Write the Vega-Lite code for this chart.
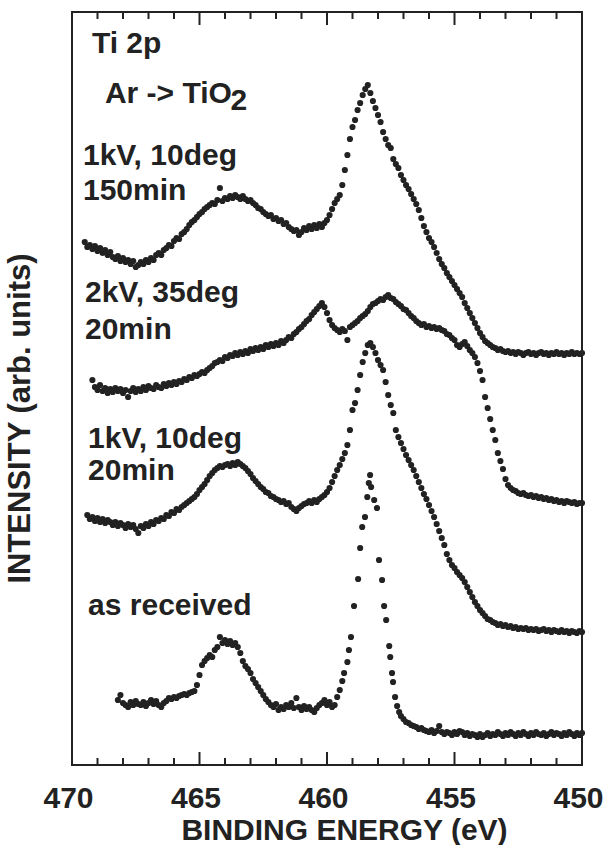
{
"$schema":"https://vega.github.io/schema/vega-lite/v6.json",
"width":510,"height":753,
"autosize":{"type":"none"},
"padding":{"left":72,"top":12,"right":21,"bottom":80},
"background":"white",
"config":{"view":{"stroke":"#222","strokeWidth":2},"axis":{"grid":false,"domain":false}},
"datasets":{
"ticks":[
{"e":470,"k":"major"},{"e":469,"k":"minor"},{"e":468,"k":"minor"},{"e":467,"k":"minor"},{"e":466,"k":"minor"},{"e":465,"k":"major"},{"e":464,"k":"minor"},{"e":463,"k":"minor"},{"e":462,"k":"minor"},{"e":461,"k":"minor"},{"e":460,"k":"major"},{"e":459,"k":"minor"},{"e":458,"k":"minor"},{"e":457,"k":"minor"},{"e":456,"k":"minor"},{"e":455,"k":"major"},{"e":454,"k":"minor"},{"e":453,"k":"minor"},{"e":452,"k":"minor"},{"e":451,"k":"minor"},{"e":450,"k":"major"}
],
"spectra":[
{"s":"A","e":469.5,"i":523},{"s":"A","e":469.4,"i":518},{"s":"A","e":469.3,"i":520},{"s":"A","e":469.2,"i":516},{"s":"A","e":469.1,"i":519},{"s":"A","e":469.0,"i":514},{"s":"A","e":468.9,"i":517},{"s":"A","e":468.8,"i":512},{"s":"A","e":468.7,"i":515},{"s":"A","e":468.6,"i":510},{"s":"A","e":468.5,"i":513},{"s":"A","e":468.4,"i":508},{"s":"A","e":468.3,"i":506},{"s":"A","e":468.2,"i":509},{"s":"A","e":468.1,"i":504},{"s":"A","e":468.0,"i":507},{"s":"A","e":467.9,"i":503},{"s":"A","e":467.8,"i":505},{"s":"A","e":467.7,"i":501},{"s":"A","e":467.6,"i":504},{"s":"A","e":467.5,"i":498},{"s":"A","e":467.4,"i":500},{"s":"A","e":467.3,"i":503},{"s":"A","e":467.2,"i":501},{"s":"A","e":467.1,"i":505},{"s":"A","e":467.0,"i":503},
{"s":"A","e":466.9,"i":507},{"s":"A","e":466.8,"i":505},{"s":"A","e":466.7,"i":510},{"s":"A","e":466.6,"i":512},{"s":"A","e":466.5,"i":510},{"s":"A","e":466.4,"i":515},{"s":"A","e":466.3,"i":517},{"s":"A","e":466.2,"i":520},{"s":"A","e":466.1,"i":519},{"s":"A","e":466.0,"i":524},{"s":"A","e":465.9,"i":527},{"s":"A","e":465.8,"i":526},{"s":"A","e":465.7,"i":531},{"s":"A","e":465.6,"i":533},{"s":"A","e":465.5,"i":536},{"s":"A","e":465.4,"i":540},{"s":"A","e":465.3,"i":543},{"s":"A","e":465.2,"i":545},{"s":"A","e":465.1,"i":548},{"s":"A","e":465.0,"i":551},{"s":"A","e":464.9,"i":553},{"s":"A","e":464.8,"i":556},{"s":"A","e":464.7,"i":558},{"s":"A","e":464.6,"i":560},{"s":"A","e":464.5,"i":562},{"s":"A","e":464.4,"i":561},{"s":"A","e":464.3,"i":565},{"s":"A","e":464.2,"i":577},{"s":"A","e":464.1,"i":564},{"s":"A","e":464.0,"i":567},{"s":"A","e":463.9,"i":566},{"s":"A","e":463.8,"i":569},{"s":"A","e":463.7,"i":567},{"s":"A","e":463.6,"i":570},{"s":"A","e":463.5,"i":568},{"s":"A","e":463.4,"i":566},{"s":"A","e":463.3,"i":569},{"s":"A","e":463.2,"i":566},{"s":"A","e":463.1,"i":564},{"s":"A","e":463.0,"i":565},{"s":"A","e":462.9,"i":562},{"s":"A","e":462.8,"i":560},{"s":"A","e":462.7,"i":557},{"s":"A","e":462.6,"i":556},{"s":"A","e":462.5,"i":553},{"s":"A","e":462.4,"i":551},{"s":"A","e":462.3,"i":549},{"s":"A","e":462.2,"i":550},{"s":"A","e":462.1,"i":546},{"s":"A","e":462.0,"i":547},{"s":"A","e":461.9,"i":544},{"s":"A","e":461.8,"i":545},{"s":"A","e":461.7,"i":541},{"s":"A","e":461.6,"i":542},{"s":"A","e":461.5,"i":538},{"s":"A","e":461.4,"i":536},{"s":"A","e":461.3,"i":534},{"s":"A","e":461.2,"i":535},{"s":"A","e":461.1,"i":530},{"s":"A","e":461.0,"i":533},{"s":"A","e":460.9,"i":537},{"s":"A","e":460.8,"i":535},{"s":"A","e":460.7,"i":539},{"s":"A","e":460.6,"i":536},{"s":"A","e":460.5,"i":540},{"s":"A","e":460.4,"i":537},{"s":"A","e":460.3,"i":541},{"s":"A","e":460.2,"i":538},{"s":"A","e":460.1,"i":542},{"s":"A","e":460.0,"i":545},
{"s":"A","e":459.9,"i":550},{"s":"A","e":459.8,"i":556},{"s":"A","e":459.7,"i":562},{"s":"A","e":459.6,"i":566},{"s":"A","e":459.5,"i":570},{"s":"A","e":459.4,"i":580},{"s":"A","e":459.3,"i":595},{"s":"A","e":459.2,"i":610},{"s":"A","e":459.1,"i":626},{"s":"A","e":459.0,"i":638},{"s":"A","e":458.9,"i":645},{"s":"A","e":458.8,"i":655},{"s":"A","e":458.7,"i":662},{"s":"A","e":458.6,"i":670},{"s":"A","e":458.5,"i":676},{"s":"A","e":458.4,"i":680},{"s":"A","e":458.3,"i":672},{"s":"A","e":458.2,"i":664},{"s":"A","e":458.1,"i":657},{"s":"A","e":458.0,"i":650},{"s":"A","e":457.9,"i":643},{"s":"A","e":457.8,"i":633},{"s":"A","e":457.7,"i":626},{"s":"A","e":457.6,"i":620},{"s":"A","e":457.5,"i":617},{"s":"A","e":457.4,"i":606},{"s":"A","e":457.3,"i":601},{"s":"A","e":457.2,"i":597},{"s":"A","e":457.1,"i":590},{"s":"A","e":457.0,"i":585},{"s":"A","e":456.9,"i":580},{"s":"A","e":456.8,"i":576},{"s":"A","e":456.7,"i":571},{"s":"A","e":456.6,"i":566},{"s":"A","e":456.5,"i":561},{"s":"A","e":456.4,"i":555},{"s":"A","e":456.3,"i":547},{"s":"A","e":456.2,"i":539},{"s":"A","e":456.1,"i":533},{"s":"A","e":456.0,"i":527},{"s":"A","e":455.9,"i":523},{"s":"A","e":455.8,"i":518},{"s":"A","e":455.7,"i":512},{"s":"A","e":455.6,"i":506},{"s":"A","e":455.5,"i":501},{"s":"A","e":455.4,"i":497},{"s":"A","e":455.3,"i":492},{"s":"A","e":455.2,"i":488},{"s":"A","e":455.1,"i":484},{"s":"A","e":455.0,"i":480},{"s":"A","e":454.9,"i":476},{"s":"A","e":454.8,"i":472},{"s":"A","e":454.7,"i":468},{"s":"A","e":454.6,"i":462},{"s":"A","e":454.5,"i":457},{"s":"A","e":454.4,"i":452},{"s":"A","e":454.3,"i":447},{"s":"A","e":454.2,"i":442},{"s":"A","e":454.1,"i":437},{"s":"A","e":454.0,"i":432},{"s":"A","e":453.9,"i":428},{"s":"A","e":453.8,"i":424},{"s":"A","e":453.7,"i":422},{"s":"A","e":453.6,"i":420},{"s":"A","e":453.5,"i":418},{"s":"A","e":453.4,"i":417},{"s":"A","e":453.3,"i":415},{"s":"A","e":453.2,"i":416},{"s":"A","e":453.1,"i":414},{"s":"A","e":453.0,"i":413},{"s":"A","e":452.9,"i":414},{"s":"A","e":452.8,"i":412},{"s":"A","e":452.7,"i":413},{"s":"A","e":452.6,"i":411},{"s":"A","e":452.5,"i":413},{"s":"A","e":452.4,"i":412},{"s":"A","e":452.3,"i":410},{"s":"A","e":452.2,"i":412},{"s":"A","e":452.1,"i":413},{"s":"A","e":452.0,"i":411},{"s":"A","e":451.9,"i":412},{"s":"A","e":451.8,"i":410},{"s":"A","e":451.7,"i":412},{"s":"A","e":451.6,"i":413},{"s":"A","e":451.5,"i":411},{"s":"A","e":451.4,"i":412},{"s":"A","e":451.3,"i":410},{"s":"A","e":451.2,"i":412},{"s":"A","e":451.1,"i":411},{"s":"A","e":451.0,"i":413},{"s":"A","e":450.9,"i":411},{"s":"A","e":450.8,"i":412},{"s":"A","e":450.7,"i":410},{"s":"A","e":450.6,"i":412},{"s":"A","e":450.5,"i":411},{"s":"A","e":450.4,"i":413},{"s":"A","e":450.3,"i":411},{"s":"A","e":450.2,"i":412},{"s":"A","e":450.1,"i":411},{"s":"A","e":450.0,"i":412},
{"s":"B","e":469.2,"i":385},{"s":"B","e":469.1,"i":378},{"s":"B","e":469.0,"i":375},{"s":"B","e":468.9,"i":380},{"s":"B","e":468.8,"i":374},{"s":"B","e":468.7,"i":377},{"s":"B","e":468.6,"i":372},{"s":"B","e":468.5,"i":376},{"s":"B","e":468.4,"i":373},{"s":"B","e":468.3,"i":377},{"s":"B","e":468.2,"i":374},{"s":"B","e":468.1,"i":376},{"s":"B","e":468.0,"i":372},{"s":"B","e":467.9,"i":375},{"s":"B","e":467.8,"i":368},{"s":"B","e":467.7,"i":374},{"s":"B","e":467.6,"i":377},{"s":"B","e":467.5,"i":373},{"s":"B","e":467.4,"i":376},{"s":"B","e":467.3,"i":374},{"s":"B","e":467.2,"i":378},{"s":"B","e":467.1,"i":375},{"s":"B","e":467.0,"i":379},{"s":"B","e":466.9,"i":377},{"s":"B","e":466.8,"i":376},{"s":"B","e":466.7,"i":380},{"s":"B","e":466.6,"i":378},{"s":"B","e":466.5,"i":377},{"s":"B","e":466.4,"i":381},{"s":"B","e":466.3,"i":379},{"s":"B","e":466.2,"i":382},{"s":"B","e":466.1,"i":380},{"s":"B","e":466.0,"i":383},{"s":"B","e":465.9,"i":381},{"s":"B","e":465.8,"i":384},{"s":"B","e":465.7,"i":383},{"s":"B","e":465.6,"i":386},{"s":"B","e":465.5,"i":385},{"s":"B","e":465.4,"i":388},{"s":"B","e":465.3,"i":387},{"s":"B","e":465.2,"i":390},{"s":"B","e":465.1,"i":389},{"s":"B","e":465.0,"i":391},{"s":"B","e":464.9,"i":393},{"s":"B","e":464.8,"i":392},{"s":"B","e":464.7,"i":395},{"s":"B","e":464.6,"i":397},{"s":"B","e":464.5,"i":399},{"s":"B","e":464.4,"i":402},{"s":"B","e":464.3,"i":403},{"s":"B","e":464.2,"i":405},{"s":"B","e":464.1,"i":404},{"s":"B","e":464.0,"i":408},{"s":"B","e":463.9,"i":407},{"s":"B","e":463.8,"i":410},{"s":"B","e":463.7,"i":409},{"s":"B","e":463.6,"i":412},{"s":"B","e":463.5,"i":410},{"s":"B","e":463.4,"i":413},{"s":"B","e":463.3,"i":411},{"s":"B","e":463.2,"i":414},{"s":"B","e":463.1,"i":412},{"s":"B","e":463.0,"i":416},{"s":"B","e":462.9,"i":414},{"s":"B","e":462.8,"i":417},{"s":"B","e":462.7,"i":415},{"s":"B","e":462.6,"i":418},{"s":"B","e":462.5,"i":416},{"s":"B","e":462.4,"i":420},{"s":"B","e":462.3,"i":418},{"s":"B","e":462.2,"i":421},{"s":"B","e":462.1,"i":419},{"s":"B","e":462.0,"i":422},{"s":"B","e":461.9,"i":420},{"s":"B","e":461.8,"i":424},{"s":"B","e":461.7,"i":422},{"s":"B","e":461.6,"i":425},{"s":"B","e":461.5,"i":428},{"s":"B","e":461.4,"i":427},{"s":"B","e":461.3,"i":431},{"s":"B","e":461.2,"i":433},{"s":"B","e":461.1,"i":436},{"s":"B","e":461.0,"i":438},{"s":"B","e":460.9,"i":441},{"s":"B","e":460.8,"i":444},{"s":"B","e":460.7,"i":446},{"s":"B","e":460.6,"i":450},{"s":"B","e":460.5,"i":453},{"s":"B","e":460.4,"i":456},{"s":"B","e":460.3,"i":459},{"s":"B","e":460.2,"i":462},{"s":"B","e":460.1,"i":458},{"s":"B","e":460.0,"i":452},{"s":"B","e":459.9,"i":445},{"s":"B","e":459.8,"i":440},{"s":"B","e":459.7,"i":437},{"s":"B","e":459.6,"i":435},{"s":"B","e":459.5,"i":433},{"s":"B","e":459.4,"i":436},{"s":"B","e":459.3,"i":434},{"s":"B","e":459.2,"i":425},{"s":"B","e":459.1,"i":438},{"s":"B","e":459.0,"i":440},{"s":"B","e":458.9,"i":442},{"s":"B","e":458.8,"i":444},{"s":"B","e":458.7,"i":447},{"s":"B","e":458.6,"i":449},{"s":"B","e":458.5,"i":451},{"s":"B","e":458.4,"i":454},{"s":"B","e":458.3,"i":458},{"s":"B","e":458.2,"i":461},{"s":"B","e":458.1,"i":462},{"s":"B","e":458.0,"i":464},{"s":"B","e":457.9,"i":466},{"s":"B","e":457.8,"i":465},{"s":"B","e":457.7,"i":468},{"s":"B","e":457.6,"i":470},{"s":"B","e":457.5,"i":467},{"s":"B","e":457.4,"i":466},{"s":"B","e":457.3,"i":463},{"s":"B","e":457.2,"i":461},{"s":"B","e":457.1,"i":459},{"s":"B","e":457.0,"i":456},{"s":"B","e":456.9,"i":455},{"s":"B","e":456.8,"i":452},{"s":"B","e":456.7,"i":449},{"s":"B","e":456.6,"i":447},{"s":"B","e":456.5,"i":444},{"s":"B","e":456.4,"i":442},{"s":"B","e":456.3,"i":440},{"s":"B","e":456.2,"i":441},{"s":"B","e":456.1,"i":438},{"s":"B","e":456.0,"i":439},{"s":"B","e":455.9,"i":437},{"s":"B","e":455.8,"i":438},{"s":"B","e":455.7,"i":436},{"s":"B","e":455.6,"i":437},{"s":"B","e":455.5,"i":435},{"s":"B","e":455.4,"i":434},{"s":"B","e":455.3,"i":431},{"s":"B","e":455.2,"i":430},{"s":"B","e":455.1,"i":427},{"s":"B","e":455.0,"i":425},{"s":"B","e":454.9,"i":420},{"s":"B","e":454.8,"i":418},{"s":"B","e":454.7,"i":421},{"s":"B","e":454.6,"i":423},{"s":"B","e":454.5,"i":419},{"s":"B","e":454.4,"i":415},{"s":"B","e":454.3,"i":412},{"s":"B","e":454.2,"i":408},{"s":"B","e":454.1,"i":402},{"s":"B","e":454.0,"i":394},{"s":"B","e":453.9,"i":385},{"s":"B","e":453.8,"i":368},{"s":"B","e":453.7,"i":357},{"s":"B","e":453.6,"i":346},{"s":"B","e":453.5,"i":335},{"s":"B","e":453.4,"i":325},{"s":"B","e":453.3,"i":312},{"s":"B","e":453.2,"i":304},{"s":"B","e":453.1,"i":296},{"s":"B","e":453.0,"i":286},{"s":"B","e":452.9,"i":280},{"s":"B","e":452.8,"i":277},{"s":"B","e":452.7,"i":275},{"s":"B","e":452.6,"i":274},{"s":"B","e":452.5,"i":272},{"s":"B","e":452.4,"i":271},{"s":"B","e":452.3,"i":272},{"s":"B","e":452.2,"i":270},{"s":"B","e":452.1,"i":269},{"s":"B","e":452.0,"i":270},{"s":"B","e":451.9,"i":268},{"s":"B","e":451.8,"i":269},{"s":"B","e":451.7,"i":267},{"s":"B","e":451.6,"i":268},{"s":"B","e":451.5,"i":266},{"s":"B","e":451.4,"i":267},{"s":"B","e":451.3,"i":265},{"s":"B","e":451.2,"i":266},{"s":"B","e":451.1,"i":264},{"s":"B","e":451.0,"i":265},{"s":"B","e":450.9,"i":263},{"s":"B","e":450.8,"i":264},{"s":"B","e":450.7,"i":262},{"s":"B","e":450.6,"i":264},{"s":"B","e":450.5,"i":263},{"s":"B","e":450.4,"i":262},{"s":"B","e":450.3,"i":263},{"s":"B","e":450.2,"i":261},{"s":"B","e":450.1,"i":262},{"s":"B","e":450.0,"i":262},
{"s":"C","e":469.4,"i":250},{"s":"C","e":469.3,"i":246},{"s":"C","e":469.2,"i":248},{"s":"C","e":469.1,"i":244},{"s":"C","e":469.0,"i":247},{"s":"C","e":468.9,"i":243},{"s":"C","e":468.8,"i":246},{"s":"C","e":468.7,"i":242},{"s":"C","e":468.6,"i":245},{"s":"C","e":468.5,"i":243},{"s":"C","e":468.4,"i":240},{"s":"C","e":468.3,"i":243},{"s":"C","e":468.2,"i":239},{"s":"C","e":468.1,"i":242},{"s":"C","e":468.0,"i":240},{"s":"C","e":467.9,"i":237},{"s":"C","e":467.8,"i":241},{"s":"C","e":467.7,"i":238},{"s":"C","e":467.6,"i":240},{"s":"C","e":467.5,"i":236},{"s":"C","e":467.4,"i":232},{"s":"C","e":467.3,"i":239},{"s":"C","e":467.2,"i":237},{"s":"C","e":467.1,"i":241},{"s":"C","e":467.0,"i":239},{"s":"C","e":466.9,"i":243},{"s":"C","e":466.8,"i":241},{"s":"C","e":466.7,"i":245},{"s":"C","e":466.6,"i":244},{"s":"C","e":466.5,"i":247},{"s":"C","e":466.4,"i":246},{"s":"C","e":466.3,"i":250},{"s":"C","e":466.2,"i":249},{"s":"C","e":466.1,"i":253},{"s":"C","e":466.0,"i":252},{"s":"C","e":465.9,"i":256},{"s":"C","e":465.8,"i":255},{"s":"C","e":465.7,"i":258},{"s":"C","e":465.6,"i":260},{"s":"C","e":465.5,"i":262},{"s":"C","e":465.4,"i":264},{"s":"C","e":465.3,"i":266},{"s":"C","e":465.2,"i":268},{"s":"C","e":465.1,"i":271},{"s":"C","e":465.0,"i":275},{"s":"C","e":464.9,"i":278},{"s":"C","e":464.8,"i":281},{"s":"C","e":464.7,"i":285},{"s":"C","e":464.6,"i":289},{"s":"C","e":464.5,"i":292},{"s":"C","e":464.4,"i":295},{"s":"C","e":464.3,"i":297},{"s":"C","e":464.2,"i":299},{"s":"C","e":464.1,"i":298},{"s":"C","e":464.0,"i":300},{"s":"C","e":463.9,"i":301},{"s":"C","e":463.8,"i":299},{"s":"C","e":463.7,"i":302},{"s":"C","e":463.6,"i":300},{"s":"C","e":463.5,"i":303},{"s":"C","e":463.4,"i":301},{"s":"C","e":463.3,"i":299},{"s":"C","e":463.2,"i":297},{"s":"C","e":463.1,"i":294},{"s":"C","e":463.0,"i":291},{"s":"C","e":462.9,"i":287},{"s":"C","e":462.8,"i":284},{"s":"C","e":462.7,"i":281},{"s":"C","e":462.6,"i":278},{"s":"C","e":462.5,"i":276},{"s":"C","e":462.4,"i":273},{"s":"C","e":462.3,"i":272},{"s":"C","e":462.2,"i":269},{"s":"C","e":462.1,"i":268},{"s":"C","e":462.0,"i":266},{"s":"C","e":461.9,"i":265},{"s":"C","e":461.8,"i":263},{"s":"C","e":461.7,"i":264},{"s":"C","e":461.6,"i":261},{"s":"C","e":461.5,"i":262},{"s":"C","e":461.4,"i":258},{"s":"C","e":461.3,"i":256},{"s":"C","e":461.2,"i":254},{"s":"C","e":461.1,"i":257},{"s":"C","e":461.0,"i":259},{"s":"C","e":460.9,"i":261},{"s":"C","e":460.8,"i":262},{"s":"C","e":460.7,"i":264},{"s":"C","e":460.6,"i":262},{"s":"C","e":460.5,"i":265},{"s":"C","e":460.4,"i":263},{"s":"C","e":460.3,"i":266},{"s":"C","e":460.2,"i":268},{"s":"C","e":460.1,"i":270},{"s":"C","e":460.0,"i":273},{"s":"C","e":459.9,"i":277},{"s":"C","e":459.8,"i":283},{"s":"C","e":459.7,"i":289},{"s":"C","e":459.6,"i":295},{"s":"C","e":459.5,"i":300},{"s":"C","e":459.4,"i":306},{"s":"C","e":459.3,"i":312},{"s":"C","e":459.2,"i":320},{"s":"C","e":459.1,"i":335},{"s":"C","e":459.0,"i":355},{"s":"C","e":458.9,"i":362},{"s":"C","e":458.8,"i":375},{"s":"C","e":458.7,"i":390},{"s":"C","e":458.6,"i":403},{"s":"C","e":458.5,"i":412},{"s":"C","e":458.4,"i":420},{"s":"C","e":458.3,"i":422},{"s":"C","e":458.2,"i":418},{"s":"C","e":458.1,"i":412},{"s":"C","e":458.0,"i":405},{"s":"C","e":457.9,"i":400},{"s":"C","e":457.8,"i":395},{"s":"C","e":457.7,"i":383},{"s":"C","e":457.6,"i":370},{"s":"C","e":457.5,"i":360},{"s":"C","e":457.4,"i":352},{"s":"C","e":457.3,"i":335},{"s":"C","e":457.2,"i":328},{"s":"C","e":457.1,"i":322},{"s":"C","e":457.0,"i":316},{"s":"C","e":456.9,"i":310},{"s":"C","e":456.8,"i":305},{"s":"C","e":456.7,"i":300},{"s":"C","e":456.6,"i":295},{"s":"C","e":456.5,"i":289},{"s":"C","e":456.4,"i":283},{"s":"C","e":456.3,"i":277},{"s":"C","e":456.2,"i":271},{"s":"C","e":456.1,"i":266},{"s":"C","e":456.0,"i":260},{"s":"C","e":455.9,"i":254},{"s":"C","e":455.8,"i":248},{"s":"C","e":455.7,"i":241},{"s":"C","e":455.6,"i":234},{"s":"C","e":455.5,"i":227},{"s":"C","e":455.4,"i":220},{"s":"C","e":455.3,"i":211},{"s":"C","e":455.2,"i":205},{"s":"C","e":455.1,"i":200},{"s":"C","e":455.0,"i":197},{"s":"C","e":454.9,"i":193},{"s":"C","e":454.8,"i":190},{"s":"C","e":454.7,"i":187},{"s":"C","e":454.6,"i":183},{"s":"C","e":454.5,"i":178},{"s":"C","e":454.4,"i":173},{"s":"C","e":454.3,"i":168},{"s":"C","e":454.2,"i":163},{"s":"C","e":454.1,"i":159},{"s":"C","e":454.0,"i":155},{"s":"C","e":453.9,"i":152},{"s":"C","e":453.8,"i":149},{"s":"C","e":453.7,"i":146},{"s":"C","e":453.6,"i":145},{"s":"C","e":453.5,"i":143},{"s":"C","e":453.4,"i":142},{"s":"C","e":453.3,"i":140},{"s":"C","e":453.2,"i":141},{"s":"C","e":453.1,"i":139},{"s":"C","e":453.0,"i":140},{"s":"C","e":452.9,"i":138},{"s":"C","e":452.8,"i":139},{"s":"C","e":452.7,"i":137},{"s":"C","e":452.6,"i":138},{"s":"C","e":452.5,"i":136},{"s":"C","e":452.4,"i":137},{"s":"C","e":452.3,"i":136},{"s":"C","e":452.2,"i":137},{"s":"C","e":452.1,"i":135},{"s":"C","e":452.0,"i":136},{"s":"C","e":451.9,"i":135},{"s":"C","e":451.8,"i":136},{"s":"C","e":451.7,"i":134},{"s":"C","e":451.6,"i":135},{"s":"C","e":451.5,"i":136},{"s":"C","e":451.4,"i":134},{"s":"C","e":451.3,"i":135},{"s":"C","e":451.2,"i":133},{"s":"C","e":451.1,"i":135},{"s":"C","e":451.0,"i":134},{"s":"C","e":450.9,"i":133},{"s":"C","e":450.8,"i":135},{"s":"C","e":450.7,"i":133},{"s":"C","e":450.6,"i":134},{"s":"C","e":450.5,"i":132},{"s":"C","e":450.4,"i":134},{"s":"C","e":450.3,"i":133},{"s":"C","e":450.2,"i":132},{"s":"C","e":450.1,"i":134},{"s":"C","e":450.0,"i":133},
{"s":"D","e":468.2,"i":65},{"s":"D","e":468.1,"i":70},{"s":"D","e":468.0,"i":62},{"s":"D","e":467.9,"i":60},{"s":"D","e":467.8,"i":58},{"s":"D","e":467.7,"i":63},{"s":"D","e":467.6,"i":60},{"s":"D","e":467.5,"i":64},{"s":"D","e":467.4,"i":61},{"s":"D","e":467.3,"i":60},{"s":"D","e":467.2,"i":63},{"s":"D","e":467.1,"i":59},{"s":"D","e":467.0,"i":62},{"s":"D","e":466.9,"i":65},{"s":"D","e":466.8,"i":61},{"s":"D","e":466.7,"i":64},{"s":"D","e":466.6,"i":60},{"s":"D","e":466.5,"i":58},{"s":"D","e":466.4,"i":62},{"s":"D","e":466.3,"i":64},{"s":"D","e":466.2,"i":67},{"s":"D","e":466.1,"i":66},{"s":"D","e":466.0,"i":68},{"s":"D","e":465.9,"i":67},{"s":"D","e":465.8,"i":69},{"s":"D","e":465.7,"i":70},{"s":"D","e":465.6,"i":71},{"s":"D","e":465.5,"i":70},{"s":"D","e":465.4,"i":72},{"s":"D","e":465.3,"i":73},{"s":"D","e":465.2,"i":74},{"s":"D","e":465.1,"i":80},{"s":"D","e":465.0,"i":90},{"s":"D","e":464.9,"i":100},{"s":"D","e":464.8,"i":104},{"s":"D","e":464.7,"i":107},{"s":"D","e":464.6,"i":110},{"s":"D","e":464.5,"i":108},{"s":"D","e":464.4,"i":115},{"s":"D","e":464.3,"i":118},{"s":"D","e":464.2,"i":128},{"s":"D","e":464.1,"i":122},{"s":"D","e":464.0,"i":125},{"s":"D","e":463.9,"i":121},{"s":"D","e":463.8,"i":124},{"s":"D","e":463.7,"i":120},{"s":"D","e":463.6,"i":122},{"s":"D","e":463.5,"i":118},{"s":"D","e":463.4,"i":112},{"s":"D","e":463.3,"i":104},{"s":"D","e":463.2,"i":99},{"s":"D","e":463.1,"i":96},{"s":"D","e":463.0,"i":92},{"s":"D","e":462.9,"i":86},{"s":"D","e":462.8,"i":82},{"s":"D","e":462.7,"i":78},{"s":"D","e":462.6,"i":74},{"s":"D","e":462.5,"i":70},{"s":"D","e":462.4,"i":66},{"s":"D","e":462.3,"i":63},{"s":"D","e":462.2,"i":60},{"s":"D","e":462.1,"i":58},{"s":"D","e":462.0,"i":61},{"s":"D","e":461.9,"i":55},{"s":"D","e":461.8,"i":58},{"s":"D","e":461.7,"i":56},{"s":"D","e":461.6,"i":60},{"s":"D","e":461.5,"i":58},{"s":"D","e":461.4,"i":62},{"s":"D","e":461.3,"i":57},{"s":"D","e":461.2,"i":67},{"s":"D","e":461.1,"i":58},{"s":"D","e":461.0,"i":55},{"s":"D","e":460.9,"i":59},{"s":"D","e":460.8,"i":56},{"s":"D","e":460.7,"i":58},{"s":"D","e":460.6,"i":55},{"s":"D","e":460.5,"i":53},{"s":"D","e":460.4,"i":57},{"s":"D","e":460.3,"i":60},{"s":"D","e":460.2,"i":62},{"s":"D","e":460.1,"i":65},{"s":"D","e":460.0,"i":60},{"s":"D","e":459.9,"i":63},{"s":"D","e":459.8,"i":58},{"s":"D","e":459.7,"i":60},{"s":"D","e":459.6,"i":68},{"s":"D","e":459.5,"i":75},{"s":"D","e":459.4,"i":84},{"s":"D","e":459.33,"i":92},{"s":"D","e":459.2,"i":103},{"s":"D","e":459.14,"i":115},{"s":"D","e":459.06,"i":128},{"s":"D","e":458.94,"i":159},{"s":"D","e":458.78,"i":186},{"s":"D","e":458.7,"i":217},{"s":"D","e":458.62,"i":238},{"s":"D","e":458.51,"i":248},{"s":"D","e":458.42,"i":268},{"s":"D","e":458.36,"i":282},{"s":"D","e":458.31,"i":290},{"s":"D","e":458.27,"i":278},{"s":"D","e":458.15,"i":265},{"s":"D","e":458.04,"i":257},{"s":"D","e":457.96,"i":205},{"s":"D","e":457.84,"i":185},{"s":"D","e":457.76,"i":159},{"s":"D","e":457.68,"i":145},{"s":"D","e":457.56,"i":119},{"s":"D","e":457.52,"i":108},{"s":"D","e":457.45,"i":92},{"s":"D","e":457.41,"i":83},{"s":"D","e":457.33,"i":68},{"s":"D","e":457.25,"i":59},{"s":"D","e":457.17,"i":53},{"s":"D","e":457.1,"i":49},{"s":"D","e":457.0,"i":46},{"s":"D","e":456.9,"i":43},{"s":"D","e":456.8,"i":42},{"s":"D","e":456.7,"i":40},{"s":"D","e":456.6,"i":39},{"s":"D","e":456.5,"i":38},{"s":"D","e":456.4,"i":36},{"s":"D","e":456.3,"i":37},{"s":"D","e":456.2,"i":35},{"s":"D","e":456.1,"i":34},{"s":"D","e":456.0,"i":33},{"s":"D","e":455.9,"i":35},{"s":"D","e":455.8,"i":32},{"s":"D","e":455.7,"i":34},{"s":"D","e":455.6,"i":39},{"s":"D","e":455.5,"i":33},{"s":"D","e":455.4,"i":31},{"s":"D","e":455.3,"i":33},{"s":"D","e":455.2,"i":32},{"s":"D","e":455.1,"i":30},{"s":"D","e":455.0,"i":33},{"s":"D","e":454.9,"i":31},{"s":"D","e":454.8,"i":34},{"s":"D","e":454.7,"i":33},{"s":"D","e":454.6,"i":30},{"s":"D","e":454.5,"i":32},{"s":"D","e":454.4,"i":29},{"s":"D","e":454.3,"i":31},{"s":"D","e":454.2,"i":30},{"s":"D","e":454.1,"i":28},{"s":"D","e":454.0,"i":31},{"s":"D","e":453.9,"i":28},{"s":"D","e":453.8,"i":30},{"s":"D","e":453.7,"i":32},{"s":"D","e":453.6,"i":29},{"s":"D","e":453.5,"i":31},{"s":"D","e":453.4,"i":30},{"s":"D","e":453.3,"i":33},{"s":"D","e":453.2,"i":31},{"s":"D","e":453.1,"i":29},{"s":"D","e":453.0,"i":32},{"s":"D","e":452.9,"i":30},{"s":"D","e":452.8,"i":33},{"s":"D","e":452.7,"i":31},{"s":"D","e":452.6,"i":29},{"s":"D","e":452.5,"i":32},{"s":"D","e":452.4,"i":30},{"s":"D","e":452.3,"i":33},{"s":"D","e":452.2,"i":31},{"s":"D","e":452.1,"i":29},{"s":"D","e":452.0,"i":32},{"s":"D","e":451.9,"i":30},{"s":"D","e":451.8,"i":33},{"s":"D","e":451.7,"i":31},{"s":"D","e":451.6,"i":30},{"s":"D","e":451.5,"i":32},{"s":"D","e":451.4,"i":29},{"s":"D","e":451.3,"i":31},{"s":"D","e":451.2,"i":33},{"s":"D","e":451.1,"i":30},{"s":"D","e":451.0,"i":32},{"s":"D","e":450.9,"i":31},{"s":"D","e":450.8,"i":29},{"s":"D","e":450.7,"i":32},{"s":"D","e":450.6,"i":30},{"s":"D","e":450.5,"i":33},{"s":"D","e":450.4,"i":31},{"s":"D","e":450.3,"i":29},{"s":"D","e":450.2,"i":32},{"s":"D","e":450.1,"i":30},{"s":"D","e":450.0,"i":32}
],
"labels":[
{"t":"Ti 2p","e":469.22,"i":712},
{"t":"Ar -> TiO","e":468.71,"i":662},
{"t":"2","e":463.78,"i":655},
{"t":"1kV, 10deg","e":469.57,"i":600},
{"t":"150min","e":469.57,"i":565},
{"t":"2kV, 35deg","e":469.49,"i":463},
{"t":"20min","e":469.49,"i":426},
{"t":"1kV, 10deg","e":469.37,"i":317},
{"t":"20min","e":469.37,"i":285},
{"t":"as received","e":469.37,"i":150}
]
},
"layer":[
{"data":{"name":"spectra"},
 "mark":{"type":"point","filled":true,"size":38,"color":"#222","opacity":1},
 "encoding":{
  "x":{"field":"e","type":"quantitative","scale":{"domain":[470,450],"nice":false,"zero":false},
   "axis":{"orient":"bottom","values":[470,465,460,455,450],"ticks":false,"domain":false,"grid":false,
    "labelFont":"Liberation Sans","labelFontWeight":"bold","labelFontSize":30,"labelColor":"#222",
    "labelBaseline":"alphabetic","labelPadding":42,"labelOffset":-4,"labelFlush":false,"labelOverlap":false,"labelBound":false,
    "title":"BINDING ENERGY (eV)","titleFont":"Liberation Sans","titleFontWeight":"bold","titleFontSize":30,"titleColor":"#222",
    "titleX":272,"titleY":74,"titleBaseline":"alphabetic","titleAlign":"center","titleAnchor":null}},
  "y":{"field":"i","type":"quantitative","scale":{"domain":[0,753],"nice":false,"zero":false},
   "axis":{"title":"INTENSITY (arb. units)","ticks":false,"labels":false,"domain":false,"grid":false,
    "titleFont":"Liberation Sans","titleFontWeight":"bold","titleFontSize":31,"titleColor":"#222",
    "titleX":-52,"titleY":406,"titleAngle":270,"titleBaseline":"middle","titleAlign":"center","titleAnchor":null}}
 }},
{"data":{"name":"ticks"},"transform":[{"filter":"datum.k === 'major'"}],
 "mark":{"type":"rule","strokeWidth":2,"color":"#222"},
 "encoding":{"x":{"field":"e","type":"quantitative","axis":null},"y":{"datum":0,"type":"quantitative","axis":null},"y2":{"datum":13}}},
{"data":{"name":"ticks"},"transform":[{"filter":"datum.k === 'minor'"}],
 "mark":{"type":"rule","strokeWidth":2,"color":"#222"},
 "encoding":{"x":{"field":"e","type":"quantitative","axis":null},"y":{"datum":0,"type":"quantitative","axis":null},"y2":{"datum":7}}},
{"data":{"name":"ticks"},"transform":[{"filter":"datum.k === 'major'"}],
 "mark":{"type":"rule","strokeWidth":2,"color":"#222"},
 "encoding":{"x":{"field":"e","type":"quantitative","axis":null},"y":{"datum":753,"type":"quantitative","axis":null},"y2":{"datum":740}}},
{"data":{"name":"ticks"},"transform":[{"filter":"datum.k === 'minor'"}],
 "mark":{"type":"rule","strokeWidth":2,"color":"#222"},
 "encoding":{"x":{"field":"e","type":"quantitative","axis":null},"y":{"datum":753,"type":"quantitative","axis":null},"y2":{"datum":746}}},
{"data":{"name":"labels"},
 "mark":{"type":"text","align":"left","baseline":"alphabetic","font":"Liberation Sans","fontWeight":"bold","fontSize":30,"color":"#222"},
 "encoding":{
  "x":{"field":"e","type":"quantitative","axis":null},
  "y":{"field":"i","type":"quantitative","axis":null},
  "text":{"field":"t"}}}
],
"resolve":{"axis":{"x":"independent","y":"independent"}}
}
